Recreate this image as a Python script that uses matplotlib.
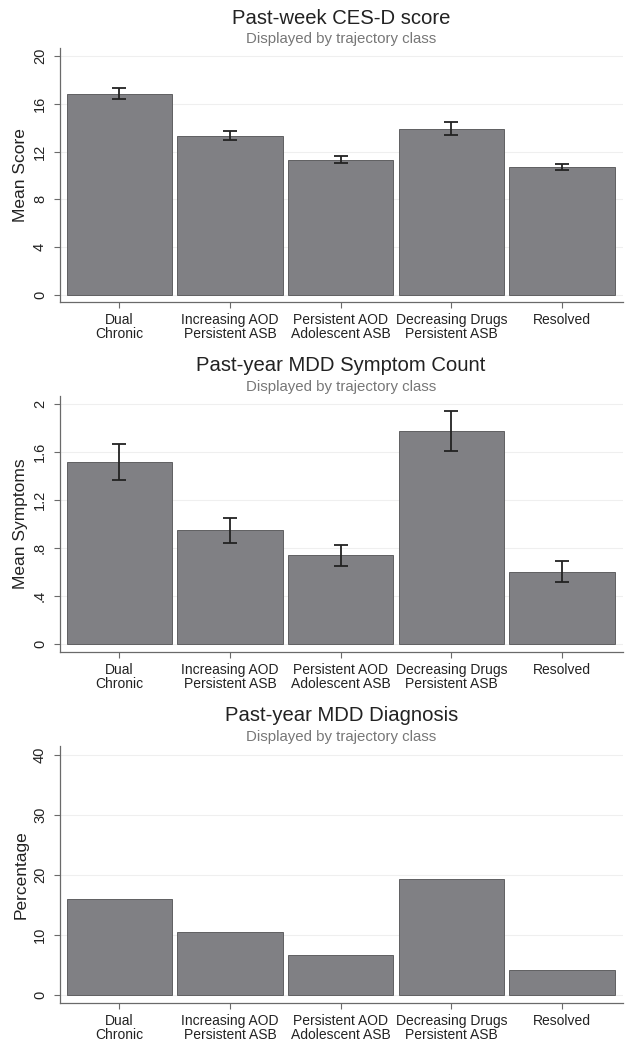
import matplotlib
matplotlib.use("Agg")
import matplotlib.pyplot as plt
import numpy as np

plt.rcParams['font.family'] = ['Liberation Sans', 'DejaVu Sans']

categories = ["Dual\nChronic", "Increasing AOD\nPersistent ASB", "Persistent AOD\nAdolescent ASB",
              "Decreasing Drugs\nPersistent ASB", "Resolved"]

cesd_mean = [16.8, 13.3, 11.3, 13.9, 10.7]
cesd_lo = [16.4, 13.0, 11.05, 13.4, 10.45]
cesd_hi = [17.3, 13.7, 11.6, 14.5, 11.0]

mdd_sym_mean = [1.52, 0.95, 0.74, 1.78, 0.60]
mdd_sym_lo = [1.37, 0.84, 0.65, 1.61, 0.52]
mdd_sym_hi = [1.67, 1.05, 0.83, 1.94, 0.69]

mdd_dx_pct = [16.0, 10.5, 6.6, 19.4, 4.2]

panels = [
    dict(title="Past-week CES-D score", ylabel="Mean Score", vals=cesd_mean, lo=cesd_lo, hi=cesd_hi,
         ticks=[0, 4, 8, 12, 16, 20], ticklabels=["0", "4", "8", "12", "16", "20"],
         ylim=(-0.59, 20.67), rect=[0.094, 0.7121, 0.890, 0.2421]),
    dict(title="Past-year MDD Symptom Count", ylabel="Mean Symptoms", vals=mdd_sym_mean, lo=mdd_sym_lo, hi=mdd_sym_hi,
         ticks=[0, 0.4, 0.8, 1.2, 1.6, 2.0], ticklabels=["0", ".4", ".8", "1.2", "1.6", "2"],
         ylim=(-0.069, 2.069), rect=[0.094, 0.3782, 0.890, 0.2443]),
    dict(title="Past-year MDD Diagnosis", ylabel="Percentage", vals=mdd_dx_pct, lo=None, hi=None,
         ticks=[0, 10, 20, 30, 40], ticklabels=["0", "10", "20", "30", "40"],
         ylim=(-1.28, 41.5), rect=[0.094, 0.0441, 0.890, 0.2448]),
]

fig = plt.figure(figsize=(6.33, 10.49), dpi=100)
bar_color = '#808084'
spine_color = '#6a6a6a'
ax_w_px = 0.890 * 633

for p in panels:
    ax = fig.add_axes(p["rect"])
    x = np.arange(len(categories))
    ax.bar(x, p["vals"], width=0.95, color=bar_color, edgecolor='#606062', linewidth=0.7, zorder=2)
    if p["lo"] is not None:
        vals = np.array(p["vals"])
        yerr = [vals - np.array(p["lo"]), np.array(p["hi"]) - vals]
        ax.errorbar(x, vals, yerr=yerr, fmt='none', ecolor='#222222', elinewidth=1.3,
                    capsize=4.7, capthick=1.3, zorder=3)
    ax.set_xlim(-0.54, 4.55)
    ax.set_ylim(*p["ylim"])
    ax.set_yticks(p["ticks"])
    ax.set_yticklabels(p["ticklabels"], rotation=90, va='center', fontsize=10.5, color='#222222')
    ax.set_xticks(x)
    ax.set_xticklabels(categories, fontsize=10, color='#222222', linespacing=1.0)
    ax.grid(axis='y', color='#efefef', linewidth=0.8, zorder=0)
    ax.set_axisbelow(True)
    for s in ['top', 'right']:
        ax.spines[s].set_visible(False)
    for s in ['left', 'bottom']:
        ax.spines[s].set_color(spine_color)
        ax.spines[s].set_linewidth(0.9)
    ax.tick_params(axis='both', direction='out', length=4, width=0.8, color=spine_color)
    ax.tick_params(axis='y', pad=5)
    ax.tick_params(axis='x', pad=4)
    ax.set_ylabel(p["ylabel"], fontsize=12.5, color='#222222')
    ax.yaxis.label.set_va('center')
    ax.yaxis.set_label_coords((20.7 - 59.5) / ax_w_px, 0.5)
    ax.text(0.5, 1.0 + 30/254, p["title"], transform=ax.transAxes, ha='center', va='center',
            fontsize=14.6, color='#222222')
    ax.text(0.5, 1.0 + 9/254, "Displayed by trajectory class", transform=ax.transAxes, ha='center',
            va='center', fontsize=10.8, color='#777777')

fig.savefig("out.png", dpi=100, facecolor='white')
